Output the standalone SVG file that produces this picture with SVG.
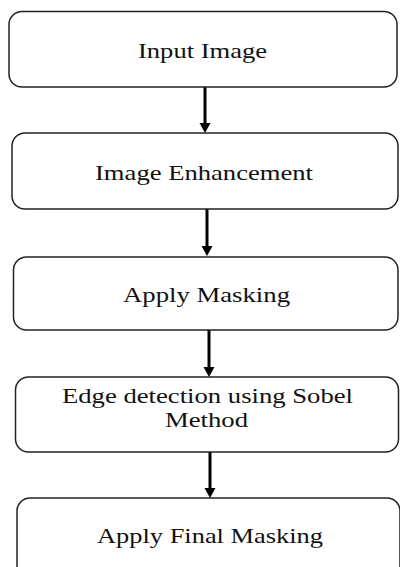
<svg xmlns="http://www.w3.org/2000/svg" width="400" height="567" viewBox="0 0 400 567">
<defs>
<style>
.box{fill:#fff;stroke:#222;stroke-width:1.5}
.t{font-family:"Liberation Serif","Times New Roman",serif;font-size:21px;fill:#111;text-anchor:middle}
.c{stroke:#000;stroke-width:3;fill:none}
.h{fill:#000}
</style>
</defs>
<rect width="400" height="567" fill="#fff"/>
<g id="connectors">
<line class="c" x1="205" y1="87" x2="205" y2="124"/>
<polygon class="h" points="199.5,123 210.5,123 205,133"/>
<line class="c" x1="207" y1="209" x2="207" y2="247"/>
<polygon class="h" points="201.5,246 212.5,246 207,256"/>
<line class="c" x1="209" y1="330" x2="209" y2="368"/>
<polygon class="h" points="203.5,367 214.5,367 209,377"/>
<line class="c" x1="210" y1="452" x2="210" y2="489"/>
<polygon class="h" points="204.5,488 215.5,488 210,498"/>
</g>
<g id="n1">
<rect class="box" x="9" y="11.5" width="388" height="75.5" rx="13"/>
<text class="t" x="202.5" y="58" textLength="129" lengthAdjust="spacingAndGlyphs">Input Image</text>
</g>
<g id="n2">
<rect class="box" x="12" y="133" width="386" height="76" rx="13"/>
<text class="t" x="204" y="180" textLength="218" lengthAdjust="spacingAndGlyphs">Image Enhancement</text>
</g>
<g id="n3">
<rect class="box" x="13.5" y="257" width="384.5" height="73" rx="13"/>
<text class="t" x="206.5" y="302" textLength="167" lengthAdjust="spacingAndGlyphs">Apply Masking</text>
</g>
<g id="n4">
<rect class="box" x="15.5" y="377" width="383" height="75" rx="13"/>
<text class="t" x="207.5" y="403" textLength="291" lengthAdjust="spacingAndGlyphs">Edge detection using Sobel</text>
<text class="t" x="206.5" y="427" textLength="83" lengthAdjust="spacingAndGlyphs">Method</text>
</g>
<g id="n5">
<rect class="box" x="17" y="498" width="383" height="100" rx="13"/>
<text class="t" x="210" y="543" textLength="226" lengthAdjust="spacingAndGlyphs">Apply Final Masking</text>
</g>
</svg>
